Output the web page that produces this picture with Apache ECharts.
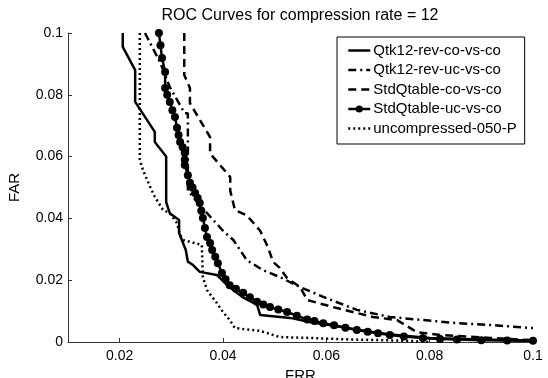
<!DOCTYPE html>
<html>
<head>
<meta charset="utf-8">
<script src="https://cdn.jsdelivr.net/npm/echarts@6/dist/echarts.min.js"></script>
<style>
  html, body { margin: 0; padding: 0; background: #fff; }
  #chart { width: 548px; height: 378px; }
</style>
</head>
<body>
<div id="chart"></div>
<script>
// [FRR, FAR] pairs
var seriesNames = ['Qtk12-rev-co-vs-co', 'Qtk12-rev-uc-vs-co', 'StdQtable-co-vs-co', 'StdQtable-uc-vs-co', 'uncompressed-050-P']

var qtkCoVsCo = [[0.0206,0.1],[0.0206,0.0955],[0.023,0.088],[0.023,0.0777],[0.0268,0.068],[0.0268,0.0647],[0.029,0.06],[0.029,0.0453],[0.0297,0.0417],[0.0315,0.0395],[0.0315,0.0353],[0.0328,0.0298],[0.0332,0.026],[0.0342,0.0249],[0.0355,0.0227],[0.0388,0.0217],[0.0408,0.0184],[0.0427,0.0159],[0.0437,0.0146],[0.0466,0.012],[0.0472,0.0087],[0.053,0.0078],[0.0568,0.0065],[0.062,0.0051],[0.066,0.004],[0.072,0.0025],[0.08,0.0013],[0.09,0.0008],[0.1,0.0005]]

var qtkUcVsCo = [[0.0249,0.1],[0.0278,0.0906],[0.0297,0.0825],[0.0326,0.074],[0.0332,0.074],[0.0332,0.049],[0.0355,0.0443],[0.04,0.036],[0.042,0.033],[0.0446,0.0265],[0.0477,0.0233],[0.051,0.021],[0.0549,0.0178],[0.0594,0.0146],[0.0659,0.0104],[0.0723,0.0081],[0.0787,0.0071],[0.0853,0.0061],[0.0917,0.0055],[0.1,0.0045]]

var stdCoVsCo = [[0.0325,0.1],[0.0325,0.0864],[0.0336,0.0822],[0.0336,0.0773],[0.0375,0.0663],[0.0375,0.061],[0.0414,0.0534],[0.0414,0.049],[0.0423,0.0427],[0.0446,0.041],[0.0472,0.036],[0.0487,0.0307],[0.0497,0.0259],[0.051,0.024],[0.0524,0.0207],[0.0549,0.0178],[0.0563,0.0136],[0.0613,0.0113],[0.069,0.0081],[0.0737,0.0071],[0.0775,0.0032],[0.082,0.0023],[0.0917,0.0013],[0.1,0.0006]]

var stdUcVsCo = [[0.0276,0.1],[0.0279,0.096],[0.0282,0.0919],[0.0288,0.0874],[0.0288,0.0822],[0.0292,0.08],[0.0297,0.0777],[0.0302,0.075],[0.0307,0.0728],[0.0311,0.0693],[0.0314,0.067],[0.0317,0.0647],[0.0322,0.063],[0.0326,0.0612],[0.0326,0.059],[0.0326,0.0573],[0.0332,0.054],[0.0336,0.0515],[0.0341,0.05],[0.0346,0.0482],[0.0351,0.0466],[0.0355,0.045],[0.0358,0.0425],[0.0361,0.0401],[0.0365,0.0369],[0.0369,0.034],[0.0375,0.032],[0.0379,0.0298],[0.0385,0.0276],[0.039,0.0255],[0.0398,0.0223],[0.0405,0.0203],[0.0413,0.0184],[0.0425,0.0172],[0.0439,0.0159],[0.0452,0.0145],[0.0466,0.013],[0.0478,0.0121],[0.0491,0.0113],[0.0507,0.0105],[0.0524,0.0097],[0.0543,0.0085],[0.0563,0.0073],[0.0577,0.0068],[0.0594,0.0061],[0.0615,0.0054],[0.0637,0.0046],[0.0659,0.0039],[0.068,0.0033],[0.07,0.0028],[0.0723,0.0023],[0.075,0.0018],[0.0787,0.0013],[0.082,0.001],[0.0853,0.0008],[0.09,0.0006],[0.095,0.0005],[0.1,0.0004]]

var uncompressed = [[0.0239,0.1],[0.0239,0.059],[0.0245,0.0557],[0.0259,0.0502],[0.0268,0.047],[0.0284,0.0427],[0.0297,0.0417],[0.0311,0.0385],[0.0317,0.0346],[0.0323,0.033],[0.0359,0.0314],[0.0361,0.021],[0.0369,0.0168],[0.0388,0.0126],[0.04,0.0097],[0.0413,0.0071],[0.0423,0.0045],[0.0472,0.0036],[0.051,0.0016],[0.0568,0.0013],[0.065,0.0008],[0.0756,0.0004],[0.08,0]]

var xTicks = [0.02, 0.04, 0.06, 0.08, 0.1]

var font = 'Liberation Sans, Arial, sans-serif'
var lineStyles = [
  { type: 'solid' },
  { type: [8, 4, 2, 4] },
  { type: [8, 5] },
  { type: 'solid' },
  { type: [2, 3] }
]
var allData = [qtkCoVsCo, qtkUcVsCo, stdCoVsCo, stdUcVsCo, uncompressed]

var myChart = echarts.init(document.getElementById('chart'))
myChart.setOption({
  animation: false,
  backgroundColor: '#fff',
  title: {
    text: 'ROC Curves for compression rate = 12',
    left: 295, top: 3, textAlign: 'center',
    textStyle: { fontFamily: font, fontSize: 16, fontWeight: 'normal', color: '#000' }
  },
  grid: { left: 68, right: 15, top: 33, bottom: 36, outerBoundsMode: 'none', containLabel: false },
  legend: {
    orient: 'vertical',
    left: 337, top: 37,
    data: seriesNames.map(function (name, i) {
      // only the marked series keeps its dot in the legend
      return i === 3 ? { name: name } : { name: name, itemStyle: { opacity: 0 } }
    }),
    itemWidth: 22, itemHeight: 9, itemGap: 4.5,
    padding: [6, 8, 8, 10],
    lineStyle: { width: 2.5 },
    backgroundColor: '#fff',
    borderColor: '#000', borderWidth: 1,
    textStyle: { fontFamily: font, fontSize: 15, color: '#000', padding: [0, 0, 0, -2] }
  },
  xAxis: {
    type: 'value', min: 0.01, max: 0.1,
    name: 'FRR', nameLocation: 'middle', nameGap: 21,
    nameTextStyle: { fontFamily: font, fontSize: 15, color: '#000' },
    splitLine: { show: false },
    axisLine: { lineStyle: { color: '#333' } },
    axisTick: { inside: true, length: 4, customValues: xTicks, lineStyle: { color: '#333' } },
    axisLabel: { customValues: xTicks, fontFamily: font, fontSize: 14, color: '#000', margin: 7,
      formatter: function (v) { return +v.toFixed(2) } }
  },
  yAxis: {
    type: 'value', min: 0, max: 0.1, interval: 0.02,
    name: 'FAR', nameLocation: 'middle', nameGap: 46,
    nameTextStyle: { fontFamily: font, fontSize: 15, color: '#000' },
    splitLine: { show: false },
    axisLine: { show: true, lineStyle: { color: '#333' } },
    axisTick: { show: true, inside: true, length: 4, lineStyle: { color: '#333' } },
    axisLabel: { fontFamily: font, fontSize: 14, color: '#000', margin: 5,
      formatter: function (v) { return +v.toFixed(2) } }
  },
  series: seriesNames.map(function (name, i) {
    var marked = i === 3
    return {
      name: name,
      type: 'line',
      data: allData[i],
      symbol: marked ? 'circle' : 'none',
      symbolSize: 8,
      showSymbol: marked,
      color: '#000',
      itemStyle: { color: '#000' },
      lineStyle: Object.assign({ color: '#000', width: 2.5 }, lineStyles[i])
    }
  })
})
</script>
</body>
</html>
